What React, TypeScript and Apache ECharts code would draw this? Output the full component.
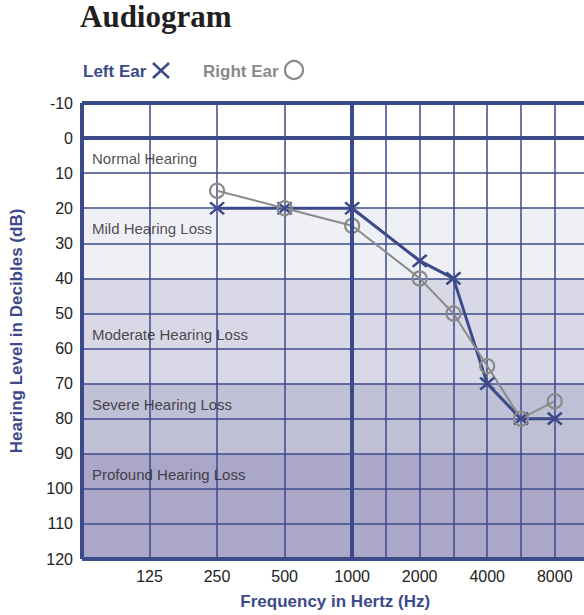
import React, { useEffect, useRef } from "react";
import * as echarts from "echarts";

// ---- data ----
const frequencySlots = ["62.5", "88", "125", "177", "250", "354", "500", "707", "1000", "1500", "2000", "3000", "4000", "6000", "8000", "12000"];
const tickLabels = ["125", "250", "500", "1000", "2000", "4000", "8000"];
const gridFrequencies = ["62.5", "125", "250", "500", "1000", "1500", "2000", "3000", "4000", "6000", "8000"];
const testFrequencies = ["250", "500", "1000", "2000", "3000", "4000", "6000", "8000"];
const leftEar = [20, 20, 20, 35, 40, 70, 80, 80];
const rightEar = [15, 20, 25, 40, 50, 65, 80, 75];
const dbMin = -10;
const dbMax = 120;
const dbStep = 10;
const bandEdges = [-10, 20, 40, 70, 90, 120];
const bandNames = ["Normal Hearing", "Mild Hearing Loss", "Moderate Hearing Loss", "Severe Hearing Loss", "Profound Hearing Loss"];
const bandLabelLevels = [5, 25, 55, 75, 95];
const thickLevels = [-10, 0, 120];
const thickFrequencies = ["62.5", "1000"];

const NAVY = "#3c4a8a";
const GREY = "#8a8a8a";
const bandColors = ["#ffffff", "#eff0f6", "#d8d8e7", "#bfbfd6", "#aaa7c8"];
const SANS = "Liberation Sans, Arial, sans-serif";

export default function App() {
  const ref = useRef<HTMLDivElement>(null);
  useEffect(() => {
    if (!ref.current) return;
    const chart = echarts.init(ref.current, null, { renderer: "svg" });

    const areaColors: string[] = [];
    for (let v = dbMin; v < dbMax; v += dbStep) {
      let idx = 0;
      for (let b = 0; b < bandEdges.length - 1; b++) {
        if (v >= bandEdges[b] && v < bandEdges[b + 1]) idx = b;
      }
      areaColors.push(bandColors[idx]);
    }

    const crossPath = "path://M0,0L14,12M14,0L0,12";

    chart.setOption({
      animation: false,
      graphic: [
        {
          type: "text",
          left: 80,
          top: 1,
          style: { text: "Audiogram", font: "bold 31px 'Liberation Serif', serif", fill: "#231f20" },
        },
        {
          type: "text",
          x: 83,
          y: 71,
          style: { text: "Left Ear", font: `bold 17px ${SANS}`, fill: NAVY, textVerticalAlign: "middle" },
        },
        { type: "line", shape: { x1: 153, y1: 63, x2: 169, y2: 78 }, style: { stroke: NAVY, lineWidth: 2.5 } },
        { type: "line", shape: { x1: 169, y1: 63, x2: 153, y2: 78 }, style: { stroke: NAVY, lineWidth: 2.5 } },
        {
          type: "text",
          x: 203,
          y: 71,
          style: { text: "Right Ear", font: `bold 17px ${SANS}`, fill: GREY, textVerticalAlign: "middle" },
        },
        { type: "circle", shape: { cx: 294, cy: 70, r: 9 }, style: { fill: "none", stroke: GREY, lineWidth: 2.2 } },
      ],
      grid: { left: 81, top: 103, bottom: 52, right: 11.5, containLabel: false },
      xAxis: {
        type: "category",
        data: frequencySlots,
        boundaryGap: false,
        axisLine: { show: false },
        axisTick: { show: false },
        axisLabel: {
          interval: (i: number, v: string) => tickLabels.indexOf(v) >= 0,
          formatter: (v: string) => (tickLabels.indexOf(v) >= 0 ? v : ""),
          color: "#222",
          fontSize: 16,
          fontFamily: SANS,
          margin: 9,
        },
        splitLine: {
          show: true,
          interval: (i: number, v: string) => gridFrequencies.indexOf(v) >= 0,
          lineStyle: { color: NAVY, width: 1.5 },
        },
        name: "Frequency in Hertz (Hz)",
        nameLocation: "middle",
        nameGap: 34,
        nameTextStyle: { color: NAVY, fontSize: 17, fontWeight: "bold", fontFamily: SANS },
      },
      yAxis: {
        type: "value",
        inverse: true,
        min: dbMin,
        max: dbMax,
        interval: dbStep,
        axisLine: { show: false },
        axisTick: { show: false },
        axisLabel: { color: "#222", fontSize: 16, fontFamily: SANS, margin: 9, padding: [0, 0, 8, 0] },
        splitLine: { show: true, lineStyle: { color: NAVY, width: 1.5 } },
        splitArea: { show: true, areaStyle: { color: areaColors } },
        name: "Hearing Level in Decibles (dB)",
        nameLocation: "middle",
        nameGap: 57,
        nameTextStyle: { color: NAVY, fontSize: 17, fontWeight: "bold", fontFamily: SANS },
      },
      series: [
        {
          type: "scatter",
          silent: true,
          symbolSize: 0,
          data: bandNames.map((n, i) => ({ name: n, value: [frequencySlots[0], bandLabelLevels[i]] })),
          label: {
            show: true,
            position: "right",
            distance: 10,
            offset: [0, 3],
            formatter: (p: any) => p.name,
            color: "#222",
            fontSize: 15,
            fontFamily: SANS,
          },
          markLine: {
            silent: true,
            symbol: ["none", "none"],
            label: { show: false },
            lineStyle: { color: NAVY, width: 4, type: "solid" },
            data: [
              ...thickLevels.map((v) => ({ yAxis: v })),
              ...thickFrequencies.map((f) => ({ xAxis: f })),
            ],
          },
        },
        {
          name: "Left Ear",
          type: "line",
          data: testFrequencies.map((f, i) => [f, leftEar[i]]),
          symbol: crossPath,
          symbolSize: [14, 12],
          lineStyle: { color: NAVY, width: 3 },
          itemStyle: { color: NAVY, borderColor: NAVY, borderWidth: 2.5 },
        },
        {
          name: "Right Ear",
          type: "line",
          data: testFrequencies.map((f, i) => [f, rightEar[i]]),
          symbol: "circle",
          symbolSize: 14,
          lineStyle: { color: GREY, width: 2 },
          itemStyle: { color: "rgba(0,0,0,0)", borderColor: GREY, borderWidth: 2.2 },
        },
      ],
    });
    return () => chart.dispose();
  }, []);
  return (
    <div style={{ position: "absolute", left: 0, top: 0, width: 584, height: 615, overflow: "hidden" }}>
      <div ref={ref} style={{ width: 600, height: 615 }} />
    </div>
  );
}
